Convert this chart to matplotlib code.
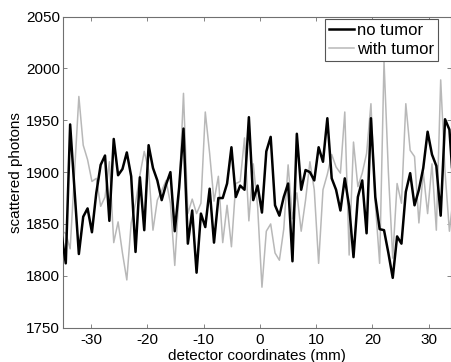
import matplotlib
matplotlib.use("Agg")
import matplotlib.pyplot as plt
import numpy as np

plt.rcParams['font.family'] = ['Liberation Sans', 'DejaVu Sans']
plt.rcParams['axes.unicode_minus'] = False

# detector positions (mm), uniform pitch
x_mm = np.linspace(-35.25, 35.25, 92)

no_tumor = [1841, 1812, 1946, 1883, 1821, 1857, 1865, 1842, 1880, 1907,
            1916, 1853, 1932, 1897, 1903, 1919, 1896, 1823, 1895, 1844,
            1926, 1904, 1892, 1873, 1888, 1900, 1843, 1885, 1942, 1831,
            1863, 1803, 1860, 1847, 1884, 1832, 1875, 1875, 1889, 1924,
            1876, 1887, 1883, 1953, 1873, 1887, 1861, 1920, 1934, 1868,
            1858, 1876, 1889, 1814, 1937, 1883, 1902, 1900, 1892, 1924,
            1910, 1952, 1894, 1883, 1863, 1894, 1867, 1818, 1876, 1892,
            1841, 1952, 1876, 1845, 1844, 1822, 1798, 1838, 1831, 1881,
            1899, 1868, 1883, 1904, 1939, 1917, 1906, 1858, 1951, 1941,
            1880, 1860]

with_tumor = [1843, 1841, 1826, 1899, 1973, 1926, 1912, 1891, 1894, 1867,
              1876, 1910, 1832, 1852, 1822, 1796, 1851, 1870, 1897, 1920,
              1902, 1844, 1873, 1882, 1892, 1870, 1810, 1880, 1976, 1860,
              1874, 1860, 1870, 1958, 1918, 1872, 1896, 1832, 1868, 1828,
              1889, 1891, 1933, 1853, 1908, 1867, 1789, 1843, 1850, 1822,
              1815, 1845, 1907, 1855, 1880, 1843, 1873, 1910, 1883, 1812,
              1883, 1898, 1917, 1905, 1899, 1958, 1820, 1929, 1886, 1899,
              1918, 1966, 1870, 1812, 2007, 1900, 1817, 1889, 1870, 1966,
              1921, 1915, 1851, 1900, 1860, 1908, 1844, 1989, 1900, 1843,
              1880, 1860]

x_ticks = [-30, -20, -10, 0, 10, 20, 30]
y_ticks = [1750, 1800, 1850, 1900, 1950, 2000, 2050]

fig = plt.figure(figsize=(4.52, 3.62), dpi=100)
ax = fig.add_axes([0.139, 0.095, 0.859, 0.859])

ax.plot(x_mm, no_tumor, color='black', lw=1.8, label='no tumor', zorder=3)
ax.plot(x_mm, with_tumor, color='#b8b8b8', lw=1.1, label='with tumor', zorder=2)

ax.set_xlim(-35, 34)
ax.set_ylim(1750, 2050)
ax.set_xticks(x_ticks)
ax.set_yticks(y_ticks)
ax.tick_params(direction='in', top=True, right=True, length=3, width=0.6,
               color='#707070', labelsize=11)
ax.tick_params(axis='x', pad=4)
ax.tick_params(axis='y', pad=2)
for s in ax.spines.values():
    s.set_color('#707070')
    s.set_linewidth(0.8)

ax.set_xlabel('detector coordinates (mm)', fontsize=11, labelpad=1)
ax.set_ylabel('scattered photons', fontsize=11, labelpad=2)

leg = ax.legend(loc='upper right', bbox_to_anchor=(0.966, 0.994), fontsize=12,
                handlelength=1.5, handletextpad=0.15, borderpad=0.25,
                labelspacing=0.25, fancybox=False, framealpha=1,
                borderaxespad=0.0)
leg.get_frame().set_edgecolor('#555555')
leg.get_frame().set_linewidth(0.8)
leg.set_zorder(5)

fig.savefig('out.png', dpi=100)
